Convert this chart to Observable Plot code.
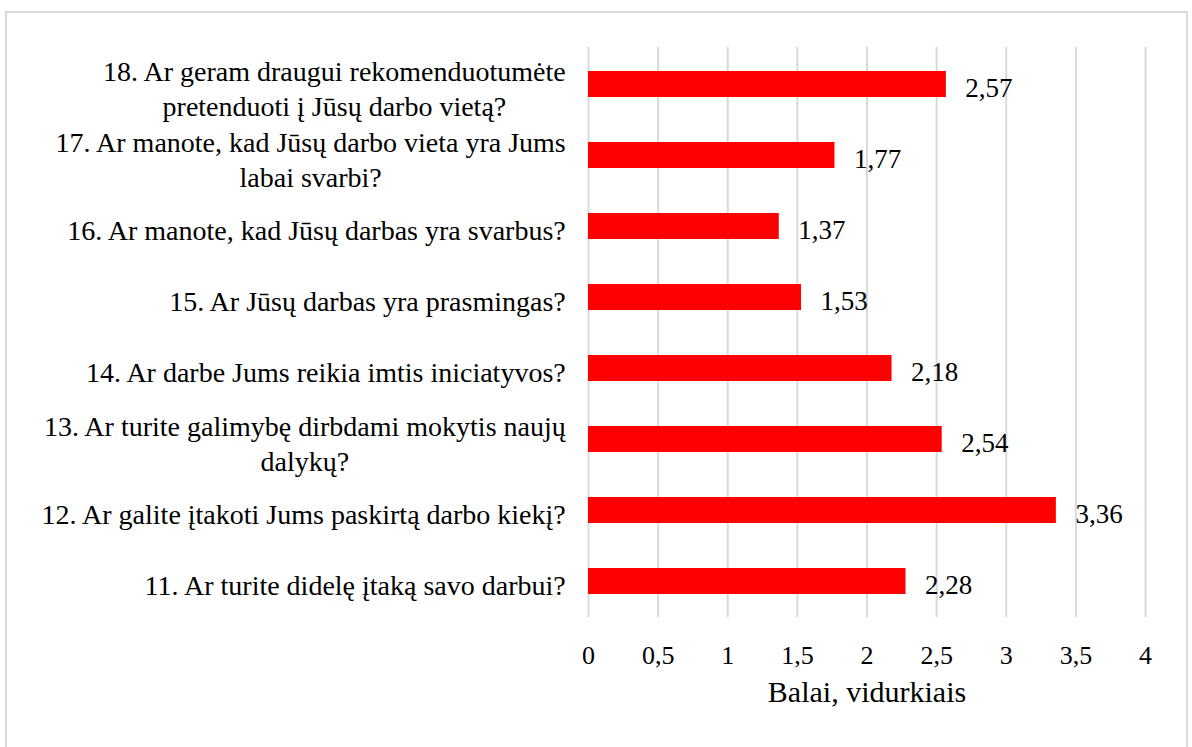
<!DOCTYPE html>
<html><head><meta charset="utf-8">
<script src="https://cdn.jsdelivr.net/npm/d3@7"></script>
<script src="https://cdn.jsdelivr.net/npm/@observablehq/plot@0.6"></script>
<style>
body{margin:0;background:#fff;}
#box{position:absolute;left:5px;top:11px;width:1179px;height:740px;border:2px solid #d9d9d9;background:#fff;}
#box svg{display:block;}
</style>
</head><body>
<div id="box"></div>
<script>
const questions = [
  "18. Ar geram draugui rekomenduotumėte\npretenduoti į Jūsų darbo vietą?",
  "17. Ar manote, kad Jūsų darbo vieta yra Jums\nlabai svarbi?",
  "16. Ar manote, kad Jūsų darbas yra svarbus?",
  "15. Ar Jūsų darbas yra prasmingas?",
  "14. Ar darbe Jums reikia imtis iniciatyvos?",
  "13. Ar turite galimybę dirbdami mokytis naujų\ndalykų?",
  "12. Ar galite įtakoti Jums paskirtą darbo kiekį?",
  "11. Ar turite didelę įtaką savo darbui?"
];
const values = [2.57, 1.77, 1.37, 1.53, 2.18, 2.54, 3.36, 2.28];
const xTicks = [0, 0.5, 1, 1.5, 2, 2.5, 3, 3.5, 4];
const xTitle = "Balai, vidurkiais";

const data = questions.map((q, i) => ({q, v: values[i]}));
const comma = d => String(d).replace(".", ",");
const fmt2 = d => d.toFixed(2).replace(".", ",");
const FF = "Liberation Serif";
const LABEL_SIZE = 28;

// measure label widths so each multi-line label is centred within a right-aligned block
const ctx = document.createElement("canvas").getContext("2d");
ctx.font = `${LABEL_SIZE}px "${FF}", serif`;
const blockWidth = q => Math.max(...q.split("\n").map(s => ctx.measureText(s).width));

const labelMarks = questions.map(q =>
  Plot.text([q], {x: () => 0, y: d => d, text: d => d, textAnchor: "middle",
    dx: -22 - blockWidth(q) / 2, dy: 3, fontSize: LABEL_SIZE, fontFamily: FF, lineHeight: 1.22, fill: "#000"})
);

const chart = Plot.plot({
  width: 1179,
  height: 720,
  marginLeft: 581,
  marginRight: 41,
  marginTop: 34,
  marginBottom: 116,
  style: {fontFamily: FF, fontSize: "22px", color: "#000", background: "transparent"},
  x: {domain: [0, 4], axis: null},
  y: {domain: questions, axis: null, paddingInner: 0.635, paddingOuter: 0.3175},
  marks: [
    Plot.gridX(xTicks, {stroke: "#d9d9d9", strokeOpacity: 1, strokeWidth: 2}),
    Plot.barX(data, {x: "v", y: "q", fill: "#ff0000"}),
    Plot.text(data, {x: "v", y: "q", text: d => fmt2(d.v), textAnchor: "start", dx: 19, dy: 4, fontSize: 27, fontFamily: FF, fill: "#000"}),
    ...labelMarks,
    Plot.axisX(xTicks, {tickSize: 0, tickPadding: 28, tickFormat: comma, fontSize: 26, fontFamily: FF, label: null, fill: "#000"}),
    Plot.text([xTitle], {frameAnchor: "bottom", dy: 84, fontSize: 30, fontFamily: FF, fill: "#000"})
  ]
});
document.getElementById("box").appendChild(chart);
</script>
</body></html>
